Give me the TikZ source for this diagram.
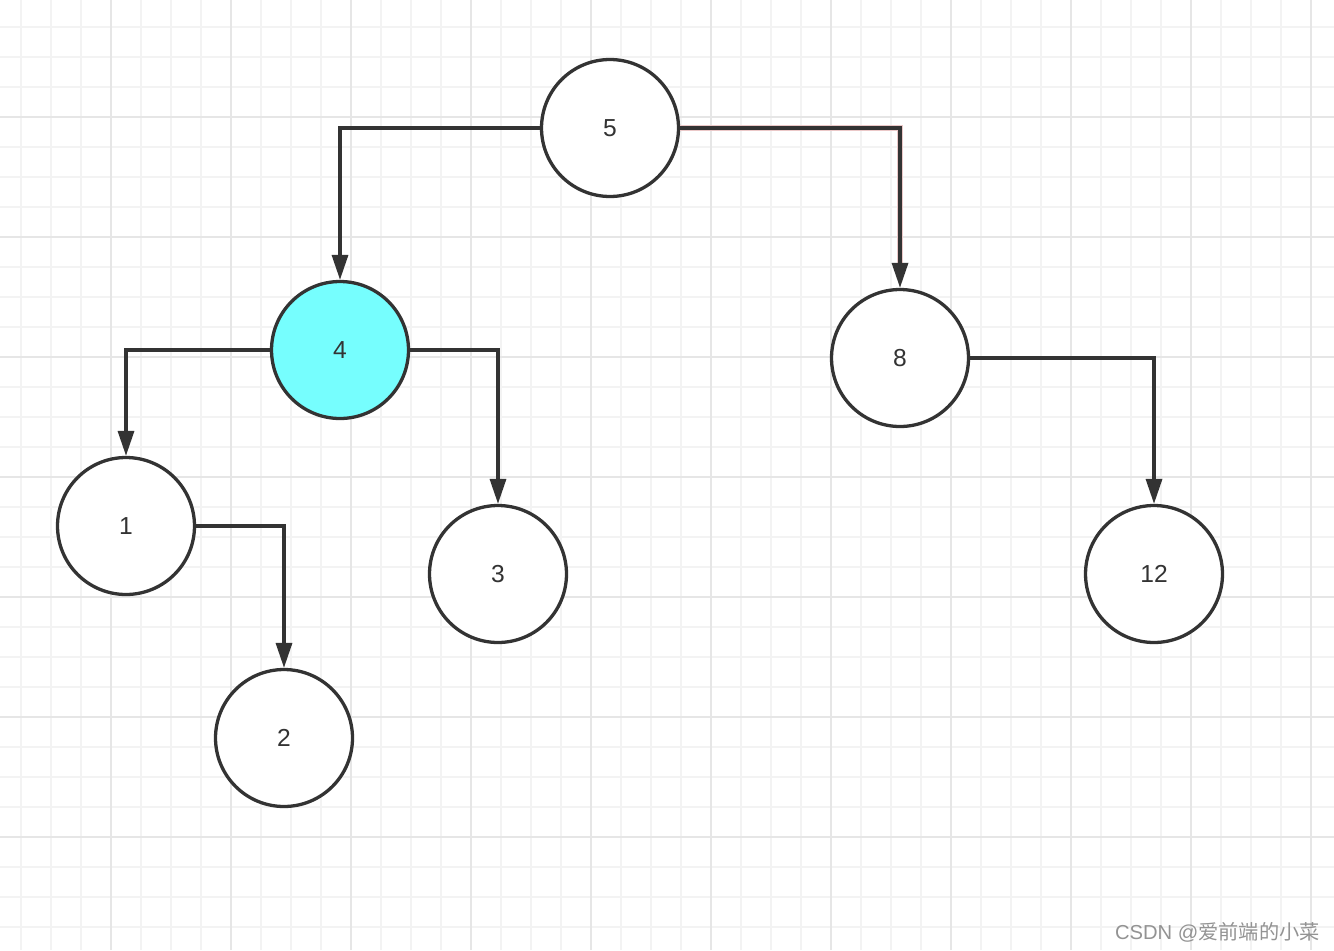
\documentclass[tikz,border=0pt]{standalone}
\usepackage{fontspec}
\setsansfont{Liberation Sans}
\newfontfamily\cjkfont{Noto Sans CJK SC}
\usetikzlibrary{arrows.meta}
\definecolor{ink}{HTML}{333333}
\definecolor{minorgrid}{HTML}{F3F3F3}
\definecolor{majorgrid}{HTML}{E6E6E6}
\definecolor{hilite}{HTML}{76FEFE}
\definecolor{glow}{HTML}{EBC8C8}
\tikzset{
  treenode/.style={circle,draw=ink,line width=0.066cm,fill=white,minimum size=2.74cm,inner sep=0pt,
    font=\sffamily\fontsize{14}{16}\selectfont,text=ink},
  link/.style={draw=ink,line width=0.066cm,-{Triangle[length=0.5cm,width=0.32cm]}}
}
\begin{document}
\begin{tikzpicture}[x=0.02cm,y=-0.02cm]
\useasboundingbox[fill=white] (0,0) rectangle (1334,950);
\foreach \x in {21,51,...,1334}
	\draw[minorgrid,line width=0.05cm] (\x,0) -- (\x,950);
\foreach \y in {27,57,...,950}
	\draw[minorgrid,line width=0.05cm] (0,\y) -- (1334,\y);
\foreach \x in {111,231,...,1334}
	\draw[majorgrid,line width=0.05cm] (\x,0) -- (\x,950);
\foreach \y in {117,237,...,950}
	\draw[majorgrid,line width=0.05cm] (0,\y) -- (1334,\y);

\node[treenode] (n5) at (610,128) {5};
\node[treenode,fill=hilite] (n4) at (340,350) {4};
\node[treenode] (n8) at (900,358) {8};
\node[treenode] (n1) at (126,526) {1};
\node[treenode] (n3) at (498,574) {3};
\node[treenode] (n12) at (1154,574) {12};
\node[treenode] (n2) at (284,738) {2};

\draw[glow,line width=0.11cm] (n5.east) -| ([yshift=0.5cm]n8.north);
\draw[link] (n5.west) -| (n4.north);
\draw[link] (n5.east) -| (n8.north);
\draw[link] (n4.west) -| (n1.north);
\draw[link] (n4.east) -| (n3.north);
\draw[link] (n8.east) -| (n12.north);
\draw[link] (n1.east) -| (n2.north);

\node[anchor=east,inner sep=0pt,text=gray!85,font=\sffamily\fontsize{11.5}{13}\selectfont] (mark) at (1320,932) {CSDN @{\cjkfont 爱前端的小菜}};
\end{tikzpicture}
\end{document}
